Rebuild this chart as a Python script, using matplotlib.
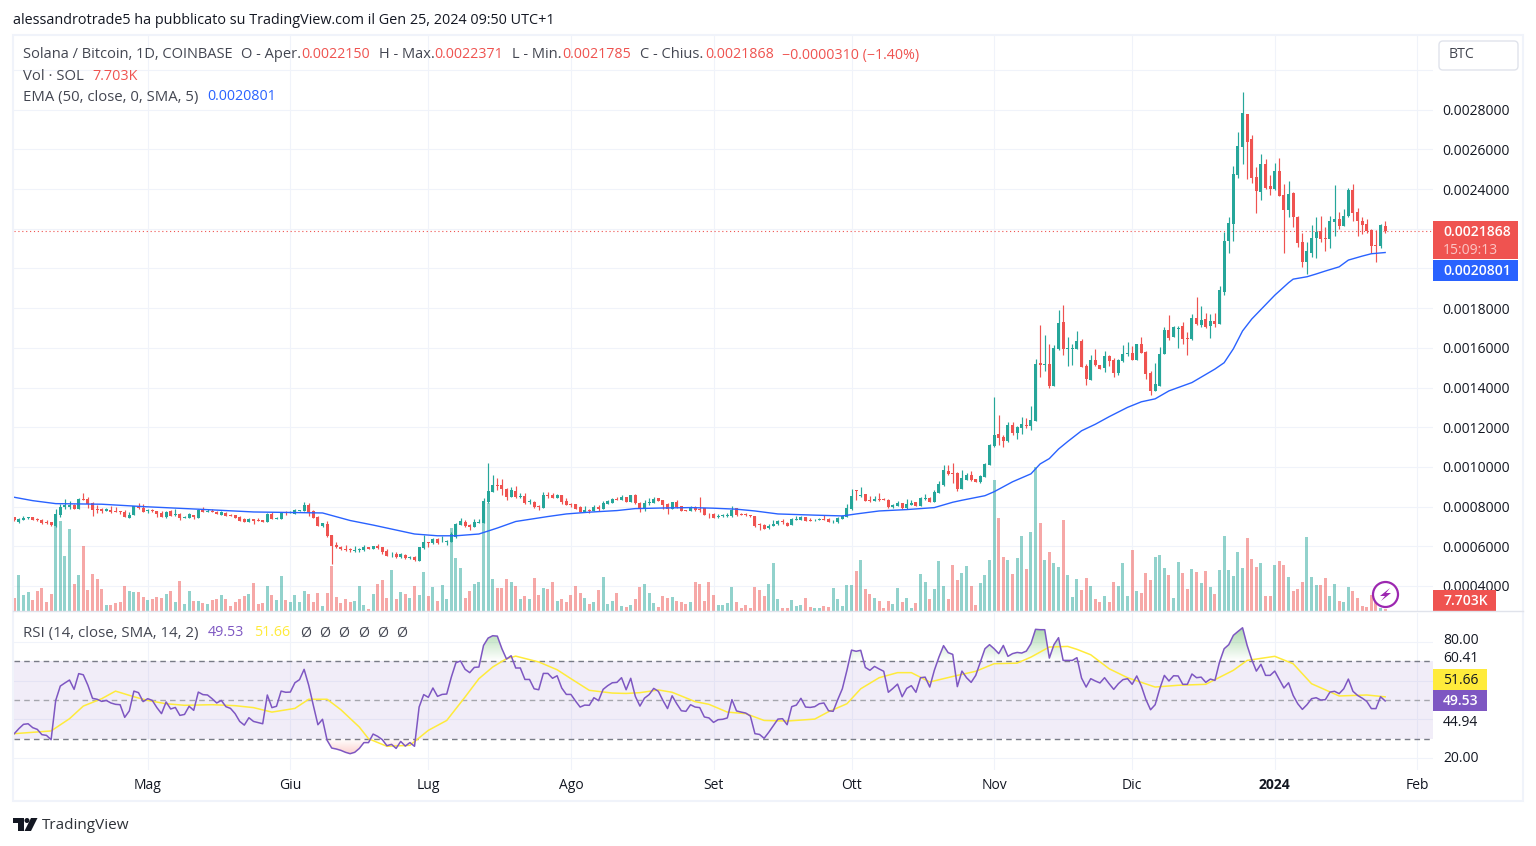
import numpy as np
import matplotlib
matplotlib.use("Agg")
from matplotlib import pyplot as plt
from matplotlib.patches import Rectangle, Circle, Polygon, FancyBboxPatch
from matplotlib.path import Path

# Prices in units of 0.0001 BTC, one candle per day, Apr 2 2023 - Jan 25 2024
opens = [7.46,7.23,7.35,7.43,7.46,7.38,7.33,7.2,7.2,7.03,
    7.58,7.96,7.98,8.1,7.88,8.38,8.36,8.16,7.86,7.86,
    7.8,7.81,7.78,7.78,7.73,7.43,7.58,8.0,7.93,7.8,
    7.83,7.78,7.68,7.46,7.8,7.58,7.63,7.43,7.43,7.56,
    7.43,7.88,7.75,7.8,7.75,7.58,7.7,7.58,7.58,7.5,
    7.38,7.23,7.36,7.33,7.3,7.23,7.63,7.38,7.38,7.7,
    7.71,7.63,7.78,7.78,8.08,7.78,7.48,7.0,7.13,6.58,
    6.06,5.98,5.88,5.86,5.76,5.81,5.8,5.95,5.86,6.03,
    5.95,5.78,5.6,5.61,5.45,5.58,5.43,5.45,5.28,5.93,
    6.21,6.15,6.38,6.25,6.23,6.2,6.48,7.08,7.23,7.08,
    6.98,7.18,7.18,8.23,8.73,9.08,9.08,8.88,8.48,8.78,
    8.48,8.53,8.23,8.23,8.01,7.93,8.58,8.58,8.43,8.58,
    8.28,8.13,8.13,7.98,7.73,7.83,7.78,7.98,7.88,8.13,
    8.18,8.38,8.33,8.48,8.23,8.58,8.18,7.88,8.18,8.18,
    8.43,8.33,8.13,7.88,8.23,8.03,7.83,7.78,7.96,7.88,
    7.91,7.65,7.63,7.5,7.55,7.55,7.51,7.91,7.63,7.63,
    7.58,7.53,7.11,7.08,6.93,7.03,7.1,7.28,7.18,7.08,
    7.35,7.33,7.48,7.33,7.31,7.35,7.36,7.38,7.25,7.23,
    7.38,7.5,7.86,8.83,8.53,8.63,8.33,8.3,8.38,8.38,
    8.33,7.98,8.03,8.18,7.93,8.08,8.23,8.03,8.38,8.43,
    8.23,8.68,9.08,9.78,9.68,9.68,8.88,9.33,9.58,9.38,
    9.23,9.48,10.08,11.07,11.67,11.52,11.32,12.12,11.72,11.97,
    12.12,12.07,12.32,15.22,15.14,15.17,14.07,15.92,17.32,15.92,
    15.92,15.92,16.32,15.07,14.37,15.37,15.12,14.97,15.57,15.37,
    14.72,15.32,15.69,15.72,15.37,16.17,15.77,14.72,13.82,14.07,
    15.67,16.92,16.52,16.97,17.12,16.47,16.42,17.52,17.17,17.47,
    17.12,17.37,17.22,18.82,21.36,22.24,24.71,26.13,27.79,26.53,
    24.61,23.85,25.27,24.16,24.0,24.91,23.7,22.94,23.8,22.59,
    21.33,20.32,20.77,21.53,21.88,21.53,21.48,22.34,22.49,22.14,
    22.64,23.95,22.84,22.39,22.24,21.93,21.18,21.13,22.15]
closes = [7.3,7.38,7.45,7.46,7.33,7.35,7.15,7.15,7.05,7.63,
    7.98,8.08,8.08,7.88,8.36,8.35,8.13,7.83,7.83,7.78,
    7.86,7.73,7.75,7.75,7.48,7.58,8.01,7.93,7.75,7.83,
    7.78,7.63,7.48,7.73,7.53,7.63,7.41,7.46,7.63,7.48,
    7.83,7.73,7.78,7.75,7.65,7.73,7.53,7.53,7.43,7.28,
    7.23,7.38,7.28,7.28,7.23,7.63,7.38,7.43,7.7,7.66,
    7.75,7.83,7.81,8.08,7.73,7.43,7.03,7.16,6.51,6.03,
    5.98,5.86,5.8,5.8,5.8,5.85,5.95,5.88,6.03,5.9,
    5.73,5.53,5.63,5.45,5.6,5.41,5.48,5.3,5.98,6.23,
    6.15,6.38,6.18,6.28,6.26,6.63,7.13,7.28,7.01,6.98,
    7.23,7.23,8.28,8.78,9.08,9.05,8.88,8.48,8.83,8.48,
    8.53,8.18,8.28,7.98,7.98,8.58,8.53,8.43,8.58,8.23,
    8.08,8.08,7.88,7.73,7.83,7.78,7.98,7.9,8.18,8.28,
    8.38,8.35,8.48,8.23,8.58,8.18,7.88,8.18,8.23,8.38,
    8.28,8.08,7.88,8.23,7.98,7.78,7.8,7.96,7.83,7.85,
    7.58,7.61,7.43,7.55,7.58,7.58,7.85,7.56,7.6,7.6,
    7.51,7.01,7.06,6.88,7.03,7.13,7.25,7.23,7.03,7.38,
    7.38,7.48,7.28,7.28,7.35,7.38,7.33,7.23,7.28,7.43,
    7.53,7.93,8.53,8.78,8.58,8.28,8.28,8.36,8.35,8.35,
    7.98,8.08,8.18,7.93,8.13,8.18,8.03,8.43,8.43,8.23,
    8.73,9.13,9.83,9.63,9.65,8.88,9.43,9.58,9.33,9.25,
    9.53,10.13,11.08,11.62,11.47,11.32,12.12,11.7,12.02,12.17,
    12.07,12.37,15.17,15.12,15.17,14.07,15.97,17.27,15.92,15.97,
    15.97,16.32,15.02,14.42,15.37,15.12,14.92,15.57,15.32,14.72,
    15.37,15.67,15.72,15.37,16.17,15.72,14.67,13.82,14.17,15.67,
    16.92,16.47,17.07,17.02,16.42,16.42,17.52,17.22,17.42,17.07,
    17.37,17.22,18.9,21.36,22.27,24.76,26.18,27.84,26.38,24.56,
    23.9,25.27,24.06,24.0,24.91,23.65,22.94,23.75,22.59,21.28,
    20.32,20.87,21.53,21.83,21.48,21.48,22.39,22.49,22.14,22.64,
    23.95,22.79,22.39,22.19,21.88,21.13,21.13,22.19,21.868]
highs = [7.5,7.45,7.53,7.48,7.48,7.43,7.38,7.31,7.23,7.86,
    8.11,8.36,8.28,8.13,8.43,8.68,8.48,8.25,8.08,7.91,
    7.95,8.05,7.98,7.78,7.81,7.73,8.05,8.18,8.11,7.88,
    7.86,7.78,7.76,7.78,7.81,7.86,7.66,7.55,7.68,7.56,
    7.86,7.98,7.86,7.88,7.8,7.78,7.73,7.63,7.58,7.53,
    7.43,7.43,7.36,7.41,7.33,7.7,7.71,7.48,7.73,7.78,
    7.78,7.88,7.81,8.23,8.18,7.83,7.51,7.18,7.28,6.58,
    6.21,6.01,6.06,5.91,6.03,5.91,6.08,5.98,6.03,6.13,
    5.98,5.85,5.7,5.71,5.65,5.61,5.53,5.5,5.98,6.55,
    6.21,6.43,6.41,6.5,6.33,6.73,7.16,7.41,7.35,7.13,
    7.36,7.38,8.41,10.21,9.58,9.43,9.38,8.93,9.0,9.03,
    8.68,8.68,8.38,8.28,8.08,8.73,8.73,8.68,8.65,8.6,
    8.43,8.18,8.15,8.01,8.03,7.88,8.08,8.08,8.28,8.33,
    8.43,8.48,8.58,8.5,8.58,8.63,8.23,8.33,8.43,8.48,
    8.43,8.35,8.18,8.23,8.33,8.03,7.83,8.03,8.03,8.48,
    7.95,7.68,7.68,7.61,7.63,7.68,8.03,7.95,7.68,7.68,
    7.58,7.53,7.16,7.13,7.13,7.33,7.31,7.36,7.23,7.43,
    7.53,7.53,7.48,7.43,7.38,7.43,7.58,7.43,7.33,7.48,
    7.6,8.11,8.88,8.83,8.98,8.63,8.53,8.53,8.68,8.41,
    8.38,8.13,8.28,8.18,8.38,8.33,8.23,8.48,8.63,8.48,
    8.83,9.28,10.08,10.08,10.18,9.73,9.83,9.68,9.78,9.38,
    9.6,10.18,11.13,13.52,12.62,11.62,12.27,12.27,12.07,12.52,
    12.47,13.07,15.42,17.17,16.67,16.17,16.12,17.92,18.17,16.57,
    16.17,16.87,16.42,15.17,15.62,15.92,15.12,15.82,15.62,15.47,
    15.42,16.12,16.27,16.07,16.17,16.57,15.82,14.82,15.22,16.02,
    17.07,17.67,17.12,17.12,17.32,16.82,17.72,18.57,18.12,17.77,
    17.72,17.77,19.11,21.83,22.59,25.17,26.88,28.9,27.79,26.73,
    25.12,25.77,25.52,24.71,25.32,25.57,24.26,24.41,23.85,22.64,
    21.78,21.33,22.19,22.59,22.64,22.09,22.64,24.21,22.84,23.0,
    24.06,24.26,23.05,22.59,22.49,21.99,21.93,22.24,22.371]
lows = [7.28,7.18,7.33,7.4,7.33,7.28,7.11,7.13,7.03,6.98,
    7.48,7.88,7.88,7.86,7.88,8.33,7.93,7.55,7.68,7.7,
    7.78,7.68,7.73,7.65,7.46,7.41,7.58,7.86,7.73,7.68,
    7.75,7.46,7.46,7.43,7.51,7.53,7.33,7.41,7.41,7.38,
    7.41,7.71,7.73,7.73,7.63,7.56,7.51,7.51,7.43,7.26,
    7.23,7.21,7.13,7.28,7.23,7.23,7.36,7.36,7.36,7.58,
    7.66,7.63,7.76,7.76,7.53,7.41,7.03,6.96,6.46,5.13,
    5.93,5.8,5.78,5.7,5.73,5.73,5.78,5.85,5.86,5.86,
    5.63,5.53,5.45,5.43,5.43,5.35,5.38,5.28,5.28,5.86,
    5.95,6.13,6.13,6.21,6.08,6.2,6.43,7.06,6.96,6.83,
    6.96,7.18,7.15,8.16,8.73,8.83,8.58,8.33,8.46,8.43,
    8.43,8.13,8.13,7.93,7.83,7.93,8.43,8.41,8.41,8.13,
    8.08,7.98,7.86,7.71,7.71,7.66,7.76,7.78,7.86,8.13,
    8.16,8.33,8.31,8.23,8.21,8.13,7.73,7.8,8.08,8.18,
    8.28,7.88,7.63,7.88,7.93,7.78,7.78,7.78,7.78,7.73,
    7.58,7.45,7.43,7.43,7.48,7.48,7.48,7.53,7.56,7.53,
    7.5,6.95,6.83,6.86,6.88,7.03,7.08,7.13,7.03,7.08,
    7.33,7.33,7.28,7.26,7.28,7.33,7.33,7.21,7.18,7.18,
    7.36,7.48,7.83,8.33,8.48,8.28,8.23,8.28,8.3,8.33,
    7.93,7.93,8.03,7.88,7.9,8.08,8.03,8.03,8.33,8.23,
    8.23,8.68,9.03,9.58,9.18,8.78,8.88,9.33,9.3,9.25,
    9.21,9.48,10.08,11.02,11.12,11.02,11.27,11.62,11.42,11.67,
    11.97,11.87,12.32,14.52,14.82,13.97,14.07,15.87,15.62,15.07,
    15.12,15.92,15.02,14.12,14.37,15.07,14.92,14.77,15.07,14.52,
    14.62,15.27,15.57,15.37,15.37,15.72,14.42,13.62,13.82,14.07,
    15.67,16.37,16.52,15.97,16.17,15.62,16.37,17.17,17.07,17.02,
    16.47,17.07,17.22,18.65,20.77,21.38,24.56,25.27,24.51,24.31,
    22.79,23.45,24.0,23.7,23.95,23.65,20.77,22.59,22.09,21.08,
    20.07,19.71,20.57,20.52,21.33,20.87,21.03,21.63,21.99,22.12,
    22.59,22.39,21.63,21.73,21.78,20.77,20.32,21.03,21.785]

# Volume in thousands of SOL
volumes = [50,136,61,72,42,76,88,35,65,328,
    339,208,309,102,136,245,80,140,121,84,
    24,24,31,35,95,76,72,72,54,42,
    46,54,50,65,76,35,114,28,76,39,
    39,31,28,42,46,61,46,20,35,46,
    58,65,106,28,31,95,61,42,132,42,
    35,61,35,76,65,35,69,20,69,170,
    54,31,46,35,39,95,24,9,65,102,
    118,50,155,46,72,65,50,95,61,148,
    58,91,39,99,46,312,200,162,50,76,
    102,110,336,406,121,88,88,121,110,95,
    46,58,46,125,61,88,84,110,39,46,
    35,61,95,69,50,28,35,80,129,28,
    39,69,20,16,24,46,91,102,69,31,
    16,58,50,54,39,35,28,35,110,102,
    39,110,61,24,24,31,91,35,12,24,
    12,91,80,58,102,181,46,12,12,42,
    20,24,50,16,12,12,20,16,88,46,
    20,99,99,151,192,84,65,50,39,12,
    39,28,88,35,50,12,31,140,110,46,
    84,189,95,46,174,118,144,170,95,24,
    106,136,192,491,349,202,191,139,199,281,
    158,296,540,330,191,221,180,165,341,135,
    52,120,79,124,94,45,34,56,34,109,
    94,180,56,229,75,68,142,116,202,210,
    161,135,49,184,142,82,158,146,105,150,
    90,64,154,281,154,131,221,161,274,195,
    165,180,56,56,172,188,172,128,75,82,
    109,278,128,98,98,124,56,101,38,34,
    90,75,49,19,15,60,38,11,7.703]

ema_days = [0,4,9,19,28,40,52,67,73,78,87,92,96,101,105,109,116,120,125,131,135,141,147,
    152,157,161,166,174,180,183,188,194,200,204,206,211,213,217,221,223,225,227,229,
    232,235,238,242,245,248,251,256,261,263,265,267,269,271,274,277,278,281,283,285,288,290,293,295,298]
ema_values = [8.47,8.3,8.15,8.12,8.0,7.87,7.73,7.68,7.3,7.07,6.62,6.53,6.53,6.62,6.92,7.25,7.5,7.63,7.72,7.8,7.9,7.93,7.95,
    7.92,7.87,7.78,7.63,7.57,7.53,7.63,7.78,7.85,7.95,8.22,8.32,8.55,8.75,9.25,9.65,10.15,10.42,10.9,11.28,
    11.82,12.15,12.53,13.0,13.28,13.43,13.83,14.25,14.93,15.25,15.95,16.85,17.45,17.93,18.65,19.28,19.46,19.58,19.72,19.87,20.08,20.42,20.62,20.74,20.801]

rsi = [32.7,35.3,37.5,37.8,35.8,34.9,32.2,31.8,29.6,49.8,
    57.2,58.8,60.3,55.5,63.6,63.0,57.6,50.9,50.4,49.3,
    49.8,48.5,47.8,47.6,41.1,44.4,54.6,53.8,49.2,50.7,
    49.8,46.1,43.0,49.0,45.4,46.2,42.1,42.6,46.8,44.7,
    54.1,52.8,52.6,50.7,48.5,49.8,46.6,45.7,43.0,39.0,
    37.1,40.9,39.0,38.4,37.8,52.6,46.1,46.8,54.6,54.0,
    54.1,58.9,60.5,65.8,57.6,47.3,37.3,40.1,29.3,25.3,
    24.8,24.1,23.1,22.4,23.1,25.1,28.1,28.1,32.5,31.3,
    29.6,26.5,27.2,25.1,28.7,26.3,28.1,26.2,46.4,52.8,
    51.4,56.2,51.9,52.9,53.1,61.8,69.2,70.1,65.8,64.1,
    66.8,67.0,78.1,81.9,83.1,82.9,76.4,71.1,72.8,66.5,
    66.5,60.6,60.6,55.8,55.3,63.7,63.7,61.2,62.5,56.2,
    52.9,52.9,49.5,46.4,47.4,47.3,51.2,49.7,55.5,57.4,
    58.9,59.1,61.5,55.3,61.2,51.9,46.9,51.0,52.8,56.0,
    54.5,49.8,45.6,52.2,48.1,44.5,44.2,47.6,46.4,46.1,
    41.3,40.8,38.5,39.9,40.1,40.8,50.2,44.4,43.8,43.3,
    41.8,32.7,32.3,30.3,33.4,36.8,40.2,40.4,37.3,46.6,
    47.4,50.9,46.4,46.2,46.6,48.1,48.5,44.5,44.2,50.2,
    55.8,65.3,75.7,75.1,75.6,66.8,65.3,67.3,66.0,64.8,
    54.0,56.0,58.2,51.7,56.0,57.4,54.0,61.5,61.8,56.7,
    65.3,72.1,78.0,74.4,73.5,56.9,64.9,61.5,59.1,62.7,
    69.6,76.4,78.5,76.4,73.9,78.1,72.5,73.9,74.5,74.2,
    75.2,79.0,86.4,86.2,86.2,71.6,78.5,82.1,70.4,70.4,
    70.4,71.8,61.3,56.7,61.0,59.8,58.8,61.5,58.4,55.5,
    58.4,60.5,61.0,58.1,62.4,57.2,50.2,45.0,47.6,55.8,
    62.7,59.8,62.5,62.4,58.1,58.1,63.4,61.5,61.8,59.1,
    60.8,60.1,69.6,76.4,78.5,83.3,85.3,87.2,78.1,70.8,
    64.9,68.4,62.7,62.7,64.9,60.5,56.2,58.9,52.4,48.1,
    45.2,47.6,50.7,51.2,50.0,50.2,54.1,54.5,53.3,55.8,
    60.8,54.5,52.4,51.0,49.3,45.6,45.6,51.7,49.53]
rsi_ma_days = [0,8,12,15,19,22,26,29,33,37,43,48,52,56,61,64,68,71,75,77,81,86,90,94,98,
    101,104,107,109,114,118,121,125,130,133,136,140,143,148,151,155,159,163,168,174,
    177,181,184,188,192,195,199,205,209,213,218,221,225,229,231,234,238,242,248,253,
    259,265,268,274,278,282,288,294,298]
rsi_ma_values = [32.7,34.1,40.4,46.9,50.7,54.6,51.7,49.8,48.1,47.3,47.6,47.1,46.1,43.8,45.7,50.4,50.4,45.0,36.1,30.1,26.2,26.7,34.4,39.5,51.6,
    61.0,67.0,71.3,72.6,69.6,65.6,61.0,55.0,53.6,53.4,53.8,55.2,54.0,49.2,47.8,43.8,43.0,39.5,39.2,40.2,
    44.0,48.1,55.8,61.5,64.1,64.1,59.3,62.7,64.8,68.7,69.0,72.1,77.3,77.6,76.1,73.3,66.1,61.5,56.7,57.6,
    58.1,65.3,70.4,72.5,68.7,58.4,52.1,52.6,51.66]

month_days = [29,60,90,121,152,182,213,243,274,305]
month_labels = ["Mag","Giu","Lug","Ago","Set","Ott","Nov","Dic","2024","Feb"]
price_ticks = [4,6,8,10,12,14,16,18,24,26,28]
grid_ticks = [4,6,8,10,12,14,16,18,20,22,24,26,28,30]
rsi_grid = [20,40,60,80]

# Colors
GREEN = "#26a69a"
RED = "#ef5350"
BLUE = "#2962ff"
PURPLE = "#7e57c2"
YELLOW = "#ffeb3b"
GRID = "#f0f3fa"
TEXT = "#131722"
LEGEND = "#434651"

W, H = 1536, 846
plt.rcParams["font.family"] = ["Open Sans", "DejaVu Sans"]
fig = plt.figure(figsize=(W / 100, H / 100), dpi=100, facecolor="white")


def pane(left, top, right, bottom, zorder):
    a = fig.add_axes([left / W, 1 - bottom / H, (right - left) / W, (bottom - top) / H], zorder=zorder)
    a.set_xlim(-0.065, 308.4)
    a.patch.set_alpha(0)
    for s in a.spines.values():
        s.set_visible(False)
    a.tick_params(length=0)
    return a


x = np.arange(len(closes))
is_up = np.array(closes) >= np.array(opens)
colors = [GREEN if u else RED for u in is_up]

# Grid behind everything
grid_ax = pane(14, 36, 1433, 612, 1)
grid_ax.set_ylim(2.69, 31.71)
grid_ax.set_xticks(month_days)
grid_ax.set_yticks(grid_ticks)
grid_ax.set_xticklabels([])
grid_ax.set_yticklabels([])
grid_ax.grid(True, color=GRID, lw=0.8)

# Volume
vol_ax = pane(14, 36, 1433, 612, 2)
vol_ax.set_ylim(-2.6, 2157)
vol_ax.bar(x, volumes, width=0.65, color=colors, alpha=0.5, linewidth=0)
vol_ax.set_xticks([])
vol_ax.set_yticks([])

# Candles
price_ax = pane(14, 36, 1433, 612, 3)
price_ax.set_ylim(2.69, 31.71)
price_ax.vlines(x, lows, highs, colors=colors, lw=0.85, zorder=2)
price_ax.bar(x, np.abs(np.array(closes) - np.array(opens)), bottom=np.minimum(opens, closes),
             width=0.65, color=colors, linewidth=0, zorder=3)
price_ax.plot(ema_days, ema_values, color=BLUE, lw=1.0, zorder=4)
price_ax.axhline(closes[-1], color=RED, lw=0.8, ls=(0, (1, 2.5)), zorder=1)
price_ax.set_xticks([])
price_ax.yaxis.tick_right()
price_ax.set_yticks(price_ticks)
price_ax.set_yticklabels(["0.%07d" % (t * 1000) for t in price_ticks], fontsize=10, color=TEXT)
price_ax.tick_params(axis="y", pad=7)

# RSI pane
rsi_ax = pane(14, 613, 1433, 770, 3)
rsi_ax.set_ylim(14.0, 94.8)
rsi_ax.set_xticks(month_days)
rsi_ax.set_xticklabels(month_labels, fontsize=10, color=TEXT)
rsi_ax.get_xticklabels()[8].set_fontweight("bold")
rsi_ax.tick_params(axis="x", pad=6)
rsi_ax.set_yticks(rsi_grid)
rsi_ax.set_yticklabels([])
rsi_ax.grid(True, color=GRID, lw=0.8)
rsi_ax.set_axisbelow(True)
rsi_ax.axhspan(30, 70, color=PURPLE, alpha=0.1, lw=0, zorder=1)
for level, c in [(70, "#787b86"), (50, "#a5a6ad"), (30, "#787b86")]:
    rsi_ax.axhline(level, color=c, lw=1.0, ls=(0, (4, 3)), zorder=2)

# Gradient fill above 70 and below 30, clipped to the area under the RSI line
rsi_arr = np.array(rsi)
for base, peak, where, rgb in [(70, 90, rsi_arr > 70, (0.30, 0.69, 0.31)), (30, 20, rsi_arr < 30, (0.96, 0.26, 0.21))]:
    poly = rsi_ax.fill_between(x, base, rsi_arr, where=where, interpolate=True, color="none")
    path = Path.make_compound_path(*poly.get_paths())
    grad = np.zeros((64, 2, 4))
    grad[:, :, :3] = rgb
    grad[:, :, 3] = np.linspace(0.55 if peak > base else 0.3, 0, 64)[:, None] if peak > base else np.linspace(0, 0.3, 64)[:, None]
    # first row of the image is the top of the extent
    im = rsi_ax.imshow(grad, extent=[0, 298, min(base, peak), max(base, peak)], aspect="auto",
                       interpolation="bilinear", zorder=2.5)
    im.set_clip_path(path, transform=rsi_ax.transData)
rsi_ax.set_xlim(-0.065, 308.4)
rsi_ax.set_ylim(14.0, 94.8)
rsi_ax.plot(x, rsi, color=PURPLE, lw=1.1, zorder=4)
rsi_ax.plot(rsi_ma_days, rsi_ma_values, color=YELLOW, lw=1.1, zorder=3)

# Overlay in pixel coordinates for frame, legends and price tags
ov = fig.add_axes([0, 0, 1, 1], zorder=10)
ov.set_xlim(0, W)
ov.set_ylim(H, 0)
ov.axis("off")
ov.patch.set_alpha(0)
ov.add_patch(Rectangle((13, 35), 1510, 766, fill=False, ec=GRID, lw=1.5))
ov.plot([13, 1523], [611.5, 611.5], color="#e0e3eb", lw=1.0)


def label(px, py, s, color=LEGEND, size=10.2, **kw):
    ov.text(px, py + 1, s, color=color, fontsize=size, va="center", ha="left", **kw)


label(13, 20, "alessandrotrade5 ha pubblicato su TradingView.com il Gen 25, 2024 09:50 UTC+1", TEXT, 10.35)

label(23, 54, "Solana / Bitcoin, 1D, COINBASE", LEGEND, 10.5)
for px, s in [(241, "O - Aper."), (379, "H - Max."), (512, "L - Min."), (640, "C - Chius.")]:
    label(px, 54, s, LEGEND, 10.5)
for px, s in [(301, "0.0022150"), (434, "0.0022371"), (562, "0.0021785"), (705, "0.0021868"),
              (782, "\u22120.0000310 (\u22121.40%)")]:
    label(px, 54, s, RED, 10.3)
label(23, 75, "Vol \u00b7 SOL", LEGEND, 10.75)
label(92, 75, "7.703K", RED, 10.4)
label(23, 96, "EMA (50, close, 0, SMA, 5)", LEGEND, 10.75)
label(207, 96, "0.0020801", BLUE, 10.3)
label(23, 632, "RSI (14, close, SMA, 14, 2)", LEGEND, 10.85)
label(208, 632, "49.53", PURPLE, 10.3)
label(254, 632, "51.66", YELLOW, 10.3)
for px in [300, 319, 338, 358, 377, 396]:
    label(px, 632, "\u00d8")

# BTC button
ov.add_patch(FancyBboxPatch((1439, 41), 79, 29, boxstyle="round,pad=0,rounding_size=4", fc="white", ec="#e0e3eb", lw=1))
label(1449, 54, "BTC")

# Price tags
ov.add_patch(Rectangle((1433, 221), 85, 38.5, fc=RED, ec="none"))
label(1443, 231, "0.0021868", "white", 10, weight="semibold")
label(1443, 250, "15:09:13", "#fbc6c5", 10)
ov.add_patch(Rectangle((1433, 260), 85, 21, fc=BLUE, ec="none"))
label(1443, 270, "0.0020801", "white", 10, weight="semibold")
ov.add_patch(Rectangle((1433, 590), 63, 21, fc=RED, ec="none"))
label(1443, 600, "7.703K", "white", 10, weight="semibold")

# RSI tags
label(1443, 640, "80.00", TEXT, 10)
label(1443, 657, "60.41", TEXT, 10)
ov.add_patch(Rectangle((1433, 669), 54, 21, fc=YELLOW, ec="none"))
label(1443, 679, "51.66", TEXT, 10)
ov.add_patch(Rectangle((1433, 690), 54, 21, fc=PURPLE, ec="none"))
label(1443, 700, "49.53", "white", 10, weight="semibold")
label(1443, 721, "44.94", TEXT, 10)
label(1443, 757, "20.00", TEXT, 10)

# Lightning badge
ov.add_patch(Circle((1385.5, 594.5), 12.5, fc="white", ec="#9c27b0", lw=1.6))
ov.add_patch(Polygon([(1390, 588), (1380, 596), (1385, 596), (1381, 601), (1391, 593), (1386, 593)], fc="#9c27b0", ec="none"))

# TradingView logo
ov.add_patch(Polygon([(13, 818), (23.5, 818), (23.5, 831), (18, 831), (18, 823), (13, 823)], fc=TEXT, ec="none"))
ov.add_patch(Circle((27, 820.5), 2.5, fc=TEXT, ec="none"))
ov.add_patch(Polygon([(31, 818), (37.5, 818), (31, 831), (24.5, 831)], fc=TEXT, ec="none"))
label(42, 824.5, "TradingView", "#2e3238", 11)

fig.savefig("out.png", dpi=100, facecolor="white")
